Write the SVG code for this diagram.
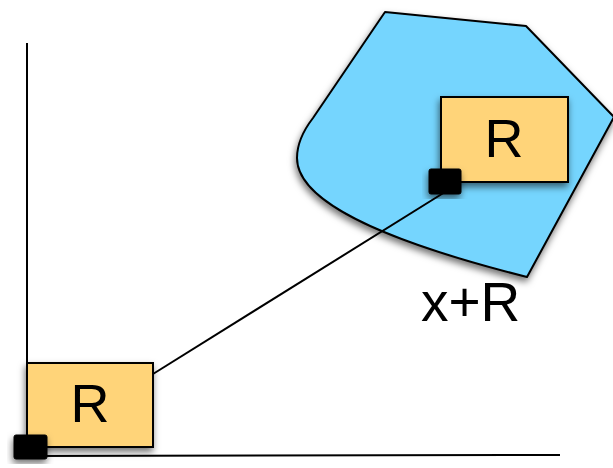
<svg xmlns="http://www.w3.org/2000/svg" width="613" height="468" viewBox="0 0 613 468">
  <defs>
    <filter id="shadow" x="-20%" y="-20%" width="140%" height="140%">
      <feDropShadow dx="-1" dy="4" stdDeviation="3.5" flood-color="#000" flood-opacity="0.55"/>
    </filter>
    <style>
      .axis { stroke: #000; stroke-width: 2; fill: none; }
      .region { fill: #75D5FE; stroke: #000; stroke-width: 2; stroke-linejoin: round; }
      .box { fill: #FFD479; stroke: #000; stroke-width: 2; }
      .pt { fill: #000; stroke: #000; stroke-width: 1; }
      .lbl { font-family: "Liberation Sans", Arial, Helvetica, sans-serif; font-size: 54px; fill: #000; }
      .big { font-size: 55px; }
      .link { stroke: #000; stroke-width: 2; fill: none; }
    </style>
  </defs>

  <rect width="613" height="468" fill="#fff"/>

  <!-- coordinate axes -->
  <g id="axes">
    <line class="axis" x1="27" y1="43" x2="27" y2="450"/>
    <line class="axis" x1="30" y1="456" x2="560" y2="455"/>
  </g>

  <!-- translated region -->
  <g id="region" filter="url(#shadow)">
    <path class="region" d="M385 12 L526 26 L614 117 L527 277 C420 250 297 210 297 158 C297 143 303 131 313 118 Z"/>
  </g>

  <!-- connector between reference points -->
  <g id="connectors">
    <line class="link" x1="153" y1="374" x2="445" y2="192"/>
  </g>

  <!-- translated box -->
  <g id="box-translated">
    <rect class="box" x="441" y="97" width="127" height="85" filter="url(#shadow)"/>
    <text class="lbl" x="504" y="157" text-anchor="middle">R</text>
    <rect class="pt" x="429" y="169" width="32" height="25" rx="2" filter="url(#shadow)"/>
  </g>

  <!-- original box -->
  <g id="box-origin">
    <rect class="box" x="27" y="363" width="126" height="84" filter="url(#shadow)"/>
    <text class="lbl" x="90" y="422" text-anchor="middle">R</text>
    <rect class="pt" x="14" y="435" width="33" height="24" rx="2" filter="url(#shadow)"/>
  </g>

  <!-- label -->
  <g id="label">
    <text class="lbl big" x="421" y="321">x+R</text>
  </g>
</svg>
